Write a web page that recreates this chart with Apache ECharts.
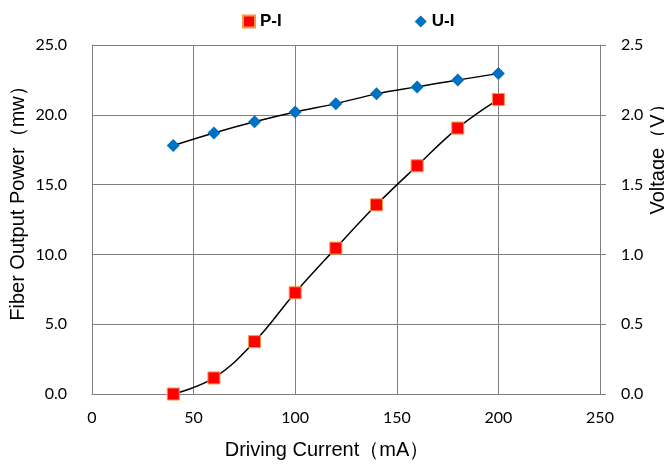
<!DOCTYPE html>
<html>
<head>
<meta charset="utf-8">
<script src="https://cdn.jsdelivr.net/npm/echarts@6/dist/echarts.min.js"></script>
<style>html,body{margin:0;padding:0;background:#fff}#c{width:664px;height:464px}</style>
</head>
<body>
<div id="c"></div>
<script>
var current = [40, 60, 80, 100, 120, 140, 160, 180, 200];
var power = [0.0, 1.15, 3.75, 7.25, 10.45, 13.55, 16.35, 19.05, 21.1];
var voltage = [1.78, 1.87, 1.95, 2.02, 2.08, 2.15, 2.20, 2.25, 2.295];
var xTicks = [0, 50, 100, 150, 200, 250];
var leftTicks = [0, 5, 10, 15, 20, 25];
var rightTicks = [0, 0.5, 1.0, 1.5, 2.0, 2.5];

function pairs(xs, ys) { return xs.map(function (x, i) { return [x, ys[i]]; }); }

var chart = echarts.init(document.getElementById('c'), null, {renderer: 'canvas'});
var labelFont = {fontFamily: 'Lato', fontSize: 16, color: '#000'};
var gridColor = '#7f7f7f';
chart.setOption({
  animation: false,
  backgroundColor: '#fff',
  legend: {
    top: 8,
    left: 237,
    itemGap: 133,
    itemWidth: 12,
    itemHeight: 12,
    textStyle: {fontFamily: 'Liberation Sans', fontSize: 17, fontWeight: 'bold', color: '#000'},
    data: [{name: 'P-I', icon: 'rect'}, {name: 'U-I', icon: 'diamond'}]
  },
  grid: {left: 92, right: 64, top: 45, bottom: 70, containLabel: false, outerBoundsMode: 'none'},
  xAxis: {
    type: 'value', min: xTicks[0], max: xTicks[xTicks.length - 1], interval: 50,
    name: 'Driving Current（mA）', nameLocation: 'middle', nameGap: 46, nameMoveOverlap: false,
    nameTextStyle: {fontFamily: 'Liberation Sans', fontSize: 20, color: '#000', padding: [0, 38, 0, 0]},
    axisLine: {lineStyle: {color: gridColor}},
    axisTick: {show: false},
    axisLabel: Object.assign({margin: 16}, labelFont),
    splitLine: {show: true, lineStyle: {color: gridColor, width: 1}}
  },
  yAxis: [{
    type: 'value', min: leftTicks[0], max: leftTicks[leftTicks.length - 1], interval: 5,
    name: 'Fiber Output Power（mw）', nameLocation: 'middle', nameGap: 64, nameRotate: 90, nameMoveOverlap: false,
    nameTextStyle: {fontFamily: 'Liberation Sans', fontSize: 20, color: '#000', padding: [0, 0, 0, 42]},
    axisLine: {show: true, lineStyle: {color: gridColor}},
    axisTick: {show: false},
    axisLabel: Object.assign({margin: 25, formatter: function (v) { return v.toFixed(1); }}, labelFont),
    splitLine: {show: true, lineStyle: {color: gridColor, width: 1}}
  }, {
    type: 'value', min: rightTicks[0], max: rightTicks[rightTicks.length - 1], interval: 0.5,
    position: 'right',
    name: 'Voltage（V）', nameLocation: 'middle', nameGap: 48, nameRotate: 90, nameMoveOverlap: false,
    nameTextStyle: {fontFamily: 'Liberation Sans', fontSize: 20, color: '#000', padding: [0, 0, 0, 130]},
    axisLine: {show: true, lineStyle: {color: gridColor}},
    axisTick: {show: true, length: 6, lineStyle: {color: gridColor}},
    axisLabel: Object.assign({margin: 21, formatter: function (v) { return v.toFixed(1); }}, labelFont),
    splitLine: {show: false}
  }],
  series: [{
    name: 'P-I', type: 'line', yAxisIndex: 0, smooth: 0.4,
    data: pairs(current, power),
    symbol: 'rect', symbolSize: 12,
    itemStyle: {color: '#ff0000', borderColor: '#f79646', borderWidth: 1},
    lineStyle: {color: '#000', width: 1.5}
  }, {
    name: 'U-I', type: 'line', yAxisIndex: 1, smooth: 0.4,
    data: pairs(current, voltage),
    symbol: 'diamond', symbolSize: 13,
    itemStyle: {color: '#0070c0', borderColor: '#0070c0', borderWidth: 0},
    lineStyle: {color: '#000', width: 1.5}
  }]
});
</script>
</body>
</html>
